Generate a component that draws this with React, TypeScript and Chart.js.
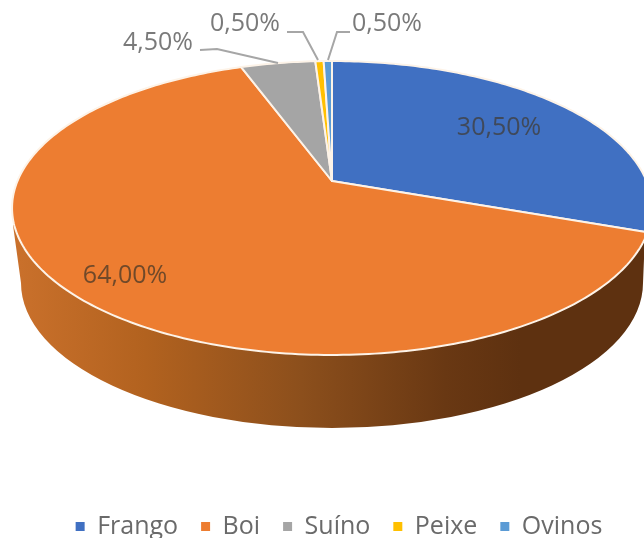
import React, { useEffect, useRef } from "react";
import { Chart, registerables } from "chart.js";

Chart.register(...registerables);

const categories = ["Frango", "Boi", "Suíno", "Peixe", "Ovinos"];
const shares = [30.5, 64, 4.5, 0.5, 0.5];
const colors = ["#4070c2", "#ed7d31", "#a5a5a5", "#ffc000", "#5b9bd5"];

const FONT = '"Open Sans", sans-serif';

// Perspective of the tilted disc
const APEX = { x: 332, y: 181 };
const DISC = { b: 314.5, a: 142, k: -0.1837 };
const project = (angle: number) => {
  const X = Math.cos(angle);
  const Y = Math.sin(angle);
  const d = 1 + DISC.k * Y;
  return { x: APEX.x + (DISC.b * X) / d, y: APEX.y + (DISC.a * Y) / d };
};

// Label layout: centre of text, then optional leader line
const labelLayout = [
  { x: 499, y: 128, color: "rgba(64,64,64,0.8)", line: null },
  { x: 125, y: 276, color: "rgba(80,60,40,0.8)", line: null },
  { x: 158, y: 43, color: "#7a7a7a", line: [[200, 50], [217, 49], [278, 63]] },
  { x: 245, y: 24, color: "#7a7a7a", line: [[287, 32], [303, 32], [318, 60]] },
  { x: 387, y: 24, color: "#7a7a7a", line: [[350, 32], [337, 32], [328, 60]] },
];

const pie3d = {
  id: "pie3d",
  beforeDatasetDraw(chart: any) {
    const ctx = chart.ctx;
    const meta = chart.getDatasetMeta(0);

    // Side wall of the large slice
    const g = ctx.createLinearGradient(20, 0, 645, 0);
    g.addColorStop(0, "#c9702b");
    g.addColorStop(0.2, "#b2621f");
    g.addColorStop(0.45, "#8c4f1c");
    g.addColorStop(0.68, "#693813");
    g.addColorStop(0.8, "#5e3110");
    g.addColorStop(1, "#5e3110");
    ctx.save();
    ctx.fillStyle = g;
    ctx.beginPath();
    ctx.moveTo(13, 225);
    ctx.lineTo(21, 283);
    ctx.ellipse(332, 283, 311, 145, 0, Math.PI, 0, true);
    ctx.lineTo(645, 235);
    ctx.closePath();
    ctx.fill();
    ctx.restore();

    // Top faces, from the angles the library computed
    meta.data.forEach((arc: any, i: number) => {
      const { startAngle, endAngle } = arc.getProps(["startAngle", "endAngle"], true);
      ctx.save();
      ctx.beginPath();
      ctx.moveTo(APEX.x, APEX.y);
      const steps = Math.max(4, Math.ceil((endAngle - startAngle) * 60));
      for (let s = 0; s <= steps; s++) {
        const p = project(startAngle + ((endAngle - startAngle) * s) / steps);
        ctx.lineTo(p.x, p.y);
      }
      ctx.closePath();
      ctx.fillStyle = arc.options.backgroundColor;
      ctx.fill();
      ctx.strokeStyle = "#fdf3e8";
      ctx.lineWidth = 2;
      ctx.lineJoin = "round";
      ctx.stroke();
      ctx.restore();
    });
    return false;
  },
  afterDatasetsDraw(chart: any) {
    const ctx = chart.ctx;
    ctx.save();
    ctx.font = `25px ${FONT}`;
    ctx.textAlign = "center";
    ctx.textBaseline = "middle";
    shares.forEach((v, i) => {
      const l = labelLayout[i];
      if (l.line) {
        ctx.beginPath();
        l.line.forEach(([x, y], j) => (j ? ctx.lineTo(x, y) : ctx.moveTo(x, y)));
        ctx.strokeStyle = "#a6a6a6";
        ctx.lineWidth = 2;
        ctx.stroke();
      }
      ctx.fillStyle = l.color;
      ctx.fillText(v.toFixed(2).replace(".", ",") + "%", l.x, l.y);
    });
    ctx.restore();
  },
};

export default function App() {
  const ref = useRef<HTMLCanvasElement>(null);
  useEffect(() => {
    const prevMargin = document.body.style.margin;
    document.body.style.margin = "0";
    const chart = new Chart(ref.current!, {
      type: "pie",
      data: {
        labels: categories,
        datasets: [{ data: shares, backgroundColor: colors, borderWidth: 0 }],
      },
      options: {
        animation: false,
        responsive: false,
        layout: { padding: { bottom: -11, left: 34 } },
        plugins: {
          tooltip: { enabled: false },
          legend: {
            position: "bottom",
            labels: {
              boxWidth: 9,
              boxHeight: 9,
              padding: 23,
              color: "#6a6a6a",
              font: { family: FONT, size: 25 },
            },
          },
        },
      },
      plugins: [pie3d],
    });
    return () => {
      chart.destroy();
      document.body.style.margin = prevMargin;
    };
  }, []);
  return (
    <canvas
      ref={ref}
      width={644}
      height={538}
      style={{ display: "block", filter: "blur(0.5px)" }}
    />
  );
}
